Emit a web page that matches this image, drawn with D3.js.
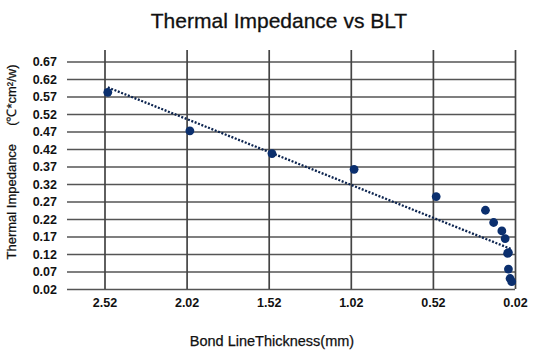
<!DOCTYPE html>
<html>
<head>
<meta charset="utf-8">
<script src="https://cdn.jsdelivr.net/npm/d3@7"></script>
<style>
  body { margin: 0; background: #fff; }
  text { font-family: "Liberation Sans", Arial, Helvetica, sans-serif; fill: #111; }
</style>
</head>
<body>
<div id="chart"></div>
<script>
// BLT (mm) and thermal impedance
const blt = [2.50, 2.00, 1.50, 1.00, 0.50, 0.20, 0.15, 0.10, 0.08, 0.06, 0.065, 0.06, 0.05, 0.04];
const impedance = [0.582, 0.472, 0.407, 0.362, 0.284, 0.245, 0.210, 0.186, 0.164, 0.124, 0.122, 0.077, 0.050, 0.041];
const xTicks = [2.52, 2.02, 1.52, 1.02, 0.52, 0.02];
const yTicks = [0.02, 0.07, 0.12, 0.17, 0.22, 0.27, 0.32, 0.37, 0.42, 0.47, 0.52, 0.57, 0.62, 0.67];

const width = 533, height = 351;
const svg = d3.select("#chart").append("svg")
    .attr("width", width)
    .attr("height", height);

const x = d3.scaleLinear().domain([2.52, 0.02]).range([104.5, 515]);
const y = d3.scaleLinear().domain([0.02, 0.67]).range([289, 61.5]);

svg.append("text")
    .attr("x", 279).attr("y", 28)
    .attr("text-anchor", "middle")
    .style("font-size", "21px")
    .style("stroke", "#111").style("stroke-width", 0.3)
    .text("Thermal Impedance vs BLT");

// horizontal grid + y labels
const yAxis = svg.append("g")
    .attr("transform", "translate(515,0)")
    .call(d3.axisLeft(y).tickValues(yTicks).tickSize(448).tickPadding(10).tickFormat(d3.format(".2f")));
yAxis.select(".domain").remove();
yAxis.selectAll("line").attr("stroke", "#555").attr("stroke-width", 1.5);
yAxis.selectAll("text")
    .style("font-size", "12.5px").style("font-weight", "bold")
    .attr("fill", "#222");

// vertical grid + x labels
const xAxis = svg.append("g")
    .attr("transform", "translate(0,50)")
    .call(d3.axisBottom(x).tickValues(xTicks).tickSize(239).tickPadding(9).tickFormat(d3.format(".2f")));
xAxis.select(".domain").remove();
xAxis.selectAll("line").attr("stroke", "#444").attr("stroke-width", 1.7);
xAxis.selectAll("text")
    .style("font-size", "12.5px").style("font-weight", "bold")
    .attr("fill", "#222");

// linear trend line (least squares)
const data = blt.map((d, i) => ({x: d, y: impedance[i]}));
const mx = d3.mean(blt), my = d3.mean(impedance);
const sxy = d3.sum(data, d => (d.x - mx) * (d.y - my));
const sxx = d3.sum(data, d => (d.x - mx) * (d.x - mx));
const slope = sxy / sxx, icpt = my - slope * mx;
const ext = d3.extent(blt);
const trend = [ext[1], ext[0]].map(v => ({x: v, y: icpt + slope * v}));

svg.append("path")
    .datum(trend)
    .attr("d", d3.line().x(d => x(d.x)).y(d => y(d.y)))
    .attr("fill", "none")
    .attr("stroke", "#0d2550")
    .attr("stroke-width", 2.3)
    .attr("stroke-dasharray", "2,1.6");

svg.append("g")
    .selectAll("circle")
    .data(data)
    .join("circle")
    .attr("cx", d => x(d.x))
    .attr("cy", d => y(d.y))
    .attr("r", 4.4)
    .attr("fill", "#0b2f6e");

// axis titles
svg.append("text")
    .attr("transform", "translate(16,162) rotate(-90)")
    .attr("text-anchor", "middle")
    .style("font-size", "13px")
    .style("stroke", "#111").style("stroke-width", 0.25)
    .text("Thermal Impedance\u00a0\u00a0\u00a0\u00a0\u00a0(\u2103*cm\u00b2/w)");

svg.append("text")
    .attr("x", 272).attr("y", 346)
    .attr("text-anchor", "middle")
    .style("font-size", "14.5px")
    .style("stroke", "#111").style("stroke-width", 0.25)
    .text("Bond LineThickness(mm)");
</script>
</body>
</html>
